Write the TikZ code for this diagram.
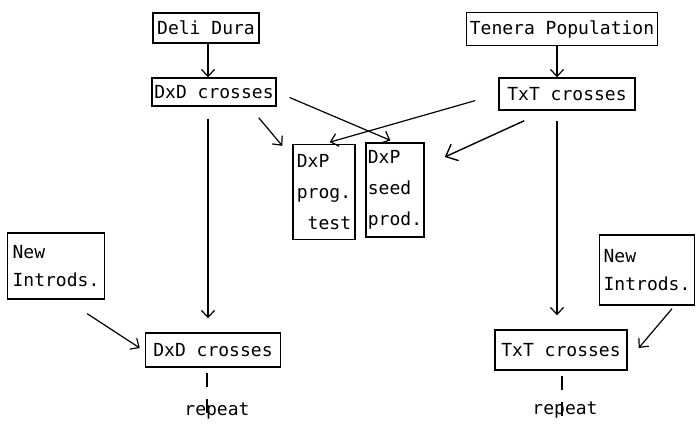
\documentclass[tikz,border=0pt]{standalone}
\usepackage{fontspec}
\setmonofont{DejaVu Sans Mono}
\usetikzlibrary{arrows.meta, positioning, calc}

\begin{document}
\begin{tikzpicture}[x=1pt, y=-1pt,
		% --- STYLES ---
		block/.style = {draw, rectangle, line width=1.4pt, inner sep=2pt, align=center,
			font=\ttfamily\fontsize{18}{20}\selectfont},
		tallblock/.style = {block, align=left, font=\ttfamily\fontsize{18}{31}\selectfont},
		newblock/.style = {block, align=left, font=\ttfamily\fontsize{18}{28}\selectfont},
		note/.style = {font=\ttfamily\fontsize{18}{20}\selectfont, inner sep=1pt},
		link/.style = {->, line width=1.2pt},
		rep/.style = {line width=1.2pt, dash pattern=on 14pt off 12pt},
		>={Straight Barb[length=7pt, width=13pt, line width=1.2pt]}
		]
		\useasboundingbox (0,0) rectangle (697,429);
		
		% --- TOP ROW ---
		\node [block, minimum width=106pt, minimum height=30pt] (dura) at (206,28) {Deli Dura};
		\node [block, minimum width=191pt, minimum height=33pt] (tenera) at (562,29) {Tenera Population};
		
		% --- FIRST CROSSES ---
		\node [block, minimum width=124pt, minimum height=28pt] (dxd1) at (214,92) {DxD crosses};
		\node [block, minimum width=136pt, minimum height=32pt] (txt1) at (567,94) {TxT crosses};
		
		% --- DxP BOXES ---
		\node [tallblock, minimum width=62pt, minimum height=95pt] (progtest) at (324,192) {DxP\\prog.\\\ test};
		\node [tallblock, minimum width=56pt, minimum height=94pt] (seedprod) at (395,190) {DxP\\seed\\prod.};
		
		% --- NEW INTRODUCTIONS ---
		\node [newblock, minimum width=97pt, minimum height=66pt] (newL) at (56,266) {New\\Introds.};
		\node [newblock, minimum width=95pt, minimum height=70pt] (newR) at (647,270) {New\\Introds.};
		
		% --- SECOND CROSSES ---
		\node [block, minimum width=135pt, minimum height=34pt] (dxd2) at (213,350) {DxD crosses};
		\node [block, minimum width=132pt, minimum height=40pt] (txt2) at (561,350) {TxT crosses};
		
		% --- REPEAT LABELS ---
		\node [note, below=34pt of dxd2, xshift=4pt] (repL) {repeat};
		\node [note, below=30pt of txt2, xshift=4pt] (repR) {repeat};
		
		% --- MAIN FLOW ---
		\draw [link] ([xshift=2pt]dura.south) -- ([xshift=2pt]dura.south |- dxd1.north);
		\draw [link] ([xshift=-5pt]tenera.south) -- ([xshift=-5pt]tenera.south |- txt1.north);
		\draw [link, shorten <=12pt, shorten >=14pt] ([xshift=-6pt]dxd1.south) -- ([xshift=-6pt]dxd1.south |- dxd2.north);
		\draw [link, shorten <=10pt, shorten >=14pt] ([xshift=-10pt]txt1.south) -- ([xshift=-10pt]txt1.south |- txt2.north);
		
		% --- CROSSING ARROWS TO DxP ---
		\draw [link, shorten <=14pt, shorten >=5pt] (dxd1.east) -- (seedprod.north);
		\draw [link, shorten <=24pt, shorten >=6pt] (txt1.west) -- (progtest.north);
		\draw [link] ($(dxd1.south east)+(-18,11)$) -- ($(progtest.north west)+(-10,2)$);
		\draw [->, line width=1.4pt, >={Straight Barb[length=10pt, width=18pt, line width=1.4pt]}]
			($(txt1.south west)+(26,10)$) -- ($(seedprod.east)+(20,-33)$);
		
		% --- NEW MATERIAL INTO SECOND CROSSES ---
		\draw [link] ($(newL.south east)+(-18,14)$) -- ($(dxd2.west)+(-5,-2)$);
		\draw [link] ($(newR.south)+(25,3)$) -- ($(txt2.east)+(11,-2)$);
		
		% --- REPEAT ---
		\draw [rep, shorten <=5pt] ([xshift=-6pt]dxd2.south) -- ([xshift=-6pt]dxd2.south |- repL.south);
		\draw [rep, shorten <=5pt] ([xshift=1pt]txt2.south) -- ([xshift=1pt]txt2.south |- repR.south);
		
\end{tikzpicture}
\end{document}
